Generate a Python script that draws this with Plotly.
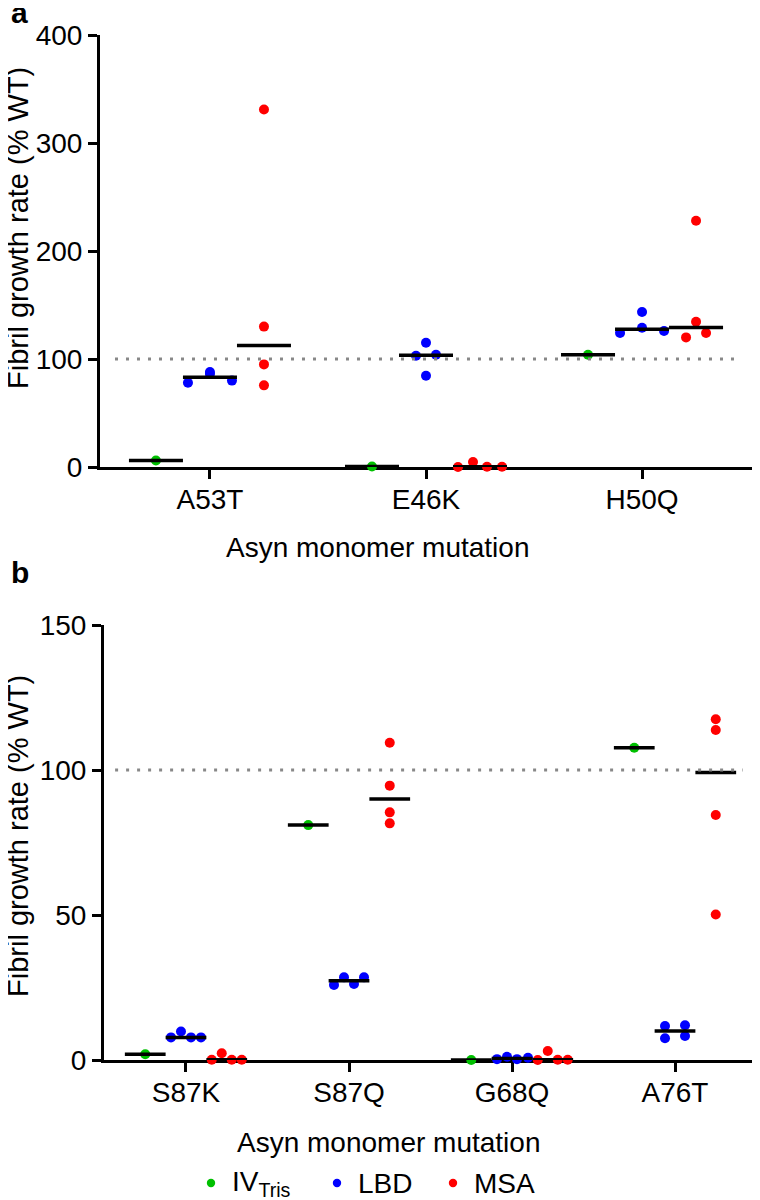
import numpy as np
import plotly.graph_objects as go

# ---------------- data ----------------
categories_a = ["A53T", "E46K", "H50Q"]
iv_a = [6, 0.5, 104]
lbd_a = [[78, 86, 88, 80], [103, 115, 84.5, 104], [124, 143.5, 129, 126]]
msa_a = [[331, 130, 95, 75.6], [0, 4.6, 0.3, 0.3], [120, 228, 134.5, 124]]

categories_b = ["S87K", "S87Q", "G68Q", "A76T"]
iv_b = [2, 81, 0, 107.7]
lbd_b = [[7.8, 9.8, 7.8, 7.8], [25.9, 28.5, 26.2, 28.5], [0.3, 1.1, 0.3, 0.8], [11.7, 7.5, 12, 8.3]]
msa_b = [[0.1, 2.3, 0.1, 0.1], [109.4, 94.6, 85.4, 81.6], [0, 3.1, 0.1, 0.1], [117.5, 113.8, 84.5, 50.2]]

series_names = ["IV<sub>Tris</sub>", "LBD", "MSA"]
yticks_a = [0, 100, 200, 300, 400]
yticks_b = [0, 50, 100, 150]
reference_value = 100

# ---------------- layout constants (positions / styles) ----------------
# page has an 8px body margin: figure is sized so that it fits the 760x1200 window
PAGE_OFF = 8
W, H = 760 - PAGE_OFF, 1200 - PAGE_OFF


def fx(px):  # page x pixel -> paper fraction
    return (px - PAGE_OFF) / W


def fy(py):  # page y pixel -> paper fraction
    return 1 - (py - PAGE_OFF) / H


PANEL_A = dict(x0=100, x1=752, ytop=35, ybot=467)
PANEL_B = dict(x0=104, x1=757, ytop=625, ybot=1060)
RANGE_A = [-0.509, 2.509]
RANGE_B = [-0.503, 3.503]
GROUP_SHIFT = {"iv": -0.25, "lbd": 0.0, "msa": 0.25}
HALF_W = 0.125

# horizontal swarm offsets in pixels
lbd_off_a = [[-22, 0, 0, 22], [-10, 0, 0, 10], [-22, 0, 0, 22]]
msa_off_a = [[0, 0, 0, 0], [-22, -7, 7, 22], [-10, 0, 0, 10]]
lbd_off_b = [[-15, -5, 5, 15], [-15, -5, 5, 15], [-15, -5, 5, 16], [-10, -10, 10, 10]]
msa_off_b = [[-15, -5, 5, 15], [0, 0, 0, 0], [-15, -5, 5, 15], [0, 0, 0, 0]]

GREEN, BLUE, RED = "#00C000", "#0000FF", "#FF0000"
COLORS = [GREEN, BLUE, RED]
FONT = "Arial, Liberation Sans, sans-serif"
DOT = 10

fig = go.Figure()


def add_panel(xa, ya, cats, iv, lbd, msa, lbd_off, msa_off, panel, xrange):
    ppu = (panel["x1"] - panel["x0"]) / (xrange[1] - xrange[0])
    med_x, med_y = [], []
    for i in range(len(cats)):
        groups = [("iv", [iv[i]], [0], GREEN), ("lbd", lbd[i], lbd_off[i], BLUE),
                  ("msa", msa[i], msa_off[i], RED)]
        for key, vals, offs, col in groups:
            c = i + GROUP_SHIFT[key]
            m = float(np.median(vals))
            med_x += [c - HALF_W, c + HALF_W, None]
            med_y += [m, m, None]
            fig.add_trace(go.Scatter(
                x=[c + o / ppu for o in offs], y=vals, mode="markers",
                marker=dict(color=col, size=DOT, line=dict(width=0)),
                showlegend=False, cliponaxis=False, xaxis=xa, yaxis=ya,
                hoverinfo="y"))
    fig.add_trace(go.Scatter(x=med_x, y=med_y, mode="lines",
                             line=dict(color="black", width=3.5),
                             showlegend=False, cliponaxis=False,
                             xaxis=xa, yaxis=ya, hoverinfo="skip"))


add_panel("x", "y", categories_a, iv_a, lbd_a, msa_a, lbd_off_a, msa_off_a, PANEL_A, RANGE_A)
add_panel("x2", "y2", categories_b, iv_b, lbd_b, msa_b, lbd_off_b, msa_off_b, PANEL_B, RANGE_B)


def dom(p):
    return [fx(p["x0"]), fx(p["x1"])], [fy(p["ybot"]), fy(p["ytop"])]


xa_dom, ya_dom = dom(PANEL_A)
xb_dom, yb_dom = dom(PANEL_B)

TICK_SIZE = 28
axis_common = dict(showline=True, linecolor="black", linewidth=3, ticks="outside",
                   ticklen=9, tickwidth=3, tickcolor="black", showgrid=False,
                   zeroline=False, tickfont=dict(family=FONT, size=TICK_SIZE, color="black"),
                   layer="below traces", fixedrange=True)

fig.update_layout(
    width=W, height=H, margin=dict(l=0, r=0, t=0, b=0, autoexpand=False),
    paper_bgcolor="white", plot_bgcolor="white",
    font=dict(family=FONT, color="black"),
    xaxis=dict(domain=xa_dom, range=RANGE_A, tickmode="array",
               tickvals=list(range(len(categories_a))), ticktext=categories_a,
               anchor="y", ticklabelstandoff=-4, **axis_common),
    yaxis=dict(domain=ya_dom, range=[0, 400], tickmode="array", tickvals=yticks_a,
               anchor="x", **axis_common),
    xaxis2=dict(domain=xb_dom, range=RANGE_B, tickmode="array",
                tickvals=list(range(len(categories_b))), ticktext=categories_b,
                anchor="y2", ticklabelstandoff=-4, **axis_common),
    yaxis2=dict(domain=yb_dom, range=[0, 150], tickmode="array", tickvals=yticks_b,
                anchor="x2", **axis_common),
    showlegend=False,
)

# dotted reference lines at 100 %
fig.add_shape(type="line", xref="x domain", yref="y", x0=0.023, x1=0.98,
              y0=reference_value, y1=reference_value,
              line=dict(color="#888888", width=3, dash="3px,8px"))
fig.add_shape(type="line", xref="x2 domain", yref="y2", x0=0.017, x1=0.978,
              y0=reference_value, y1=reference_value,
              line=dict(color="#888888", width=3, dash="3px,8px"))

# manual legend (dots + labels) below panel b
LEG_Y = 1183
leg_dot_x = [211, 337, 453]
for name, col, dx in zip(series_names, COLORS, leg_dot_x):
    r = 4.2
    fig.add_shape(type="circle", xref="paper", yref="paper",
                  x0=fx(dx - r), x1=fx(dx + r),
                  y0=fy(LEG_Y + r), y1=fy(LEG_Y - r),
                  fillcolor=col, line=dict(width=0))
    fig.add_annotation(text=name, x=fx(dx + 19), y=fy(LEG_Y), xref="paper",
                       yref="paper", xanchor="left", yanchor="middle", showarrow=False,
                       font=dict(family=FONT, size=28, color="black"))

ytitle = "Fibril growth rate (% WT)"
xtitle = "Asyn monomer mutation"
ann = [
    dict(text=ytitle, x=fx(18), y=fy(228), textangle=-90, size=29),
    dict(text=ytitle, x=fx(18), y=fy(836), textangle=-90, size=29),
    dict(text=xtitle, x=fx(377), y=fy(547), size=28),
    dict(text=xtitle, x=fx(388), y=fy(1142), size=28),
]
for a in ann:
    size = a.pop("size")
    a.update(xref="paper", yref="paper", xanchor="center", yanchor="middle",
             showarrow=False, font=dict(family=FONT, size=size, color="black"))
    fig.add_annotation(**a)
for lab, yy in [("a", 12), ("b", 573)]:
    fig.add_annotation(text="<b>%s</b>" % lab, x=fx(9), y=fy(yy), xref="paper",
                       yref="paper", xanchor="left", yanchor="middle", showarrow=False,
                       font=dict(family=FONT, size=30, color="black"))

fig.write_html("out.html")
